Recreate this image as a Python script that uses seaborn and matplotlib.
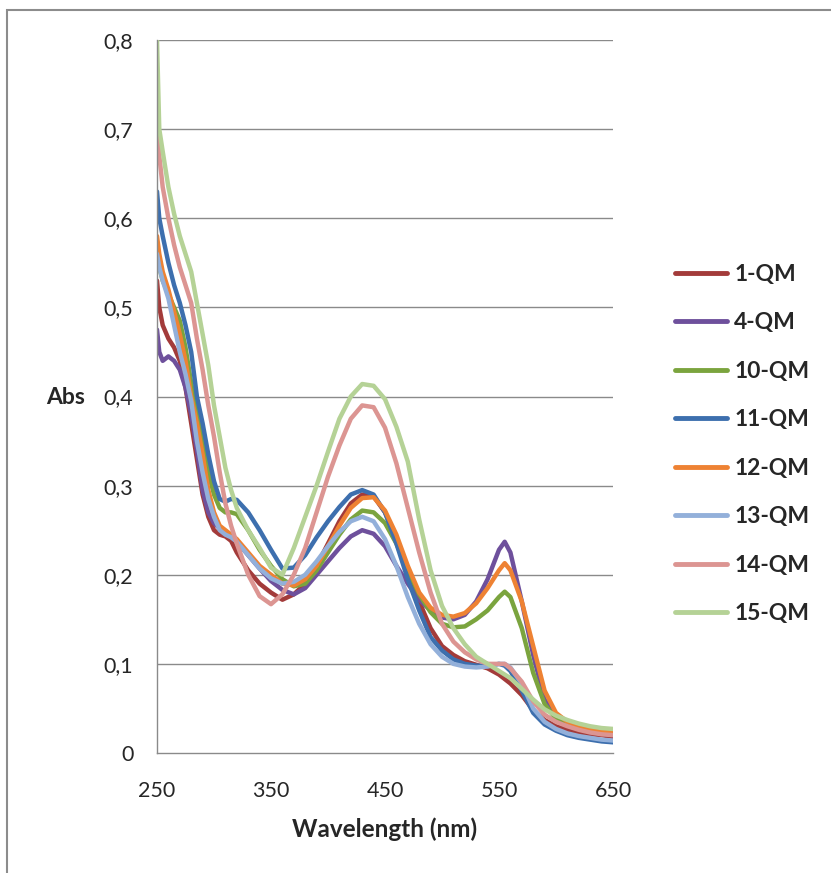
import numpy as np
import pandas as pd
import matplotlib
matplotlib.use("Agg")
import matplotlib.pyplot as plt
import seaborn as sns
from matplotlib.patches import Rectangle
from matplotlib.lines import Line2D
from matplotlib.ticker import FuncFormatter

wavelength = [250, 252, 255, 260, 265, 270, 275, 280, 285, 290, 295, 300, 305, 310, 315, 320,
              330, 340, 350, 360, 370, 380, 390, 400, 410, 420, 430, 440, 450, 460, 470, 480,
              490, 500, 510, 520, 530, 540, 550, 555, 560, 570, 580, 590, 600, 610, 620, 630, 640, 650]

qm1 = [0.53, 0.50, 0.48, 0.465, 0.455, 0.44, 0.41, 0.37, 0.33, 0.29, 0.265, 0.25, 0.245, 0.243, 0.238, 0.225,
       0.205, 0.19, 0.18, 0.172, 0.178, 0.19, 0.21, 0.235, 0.26, 0.28, 0.29, 0.288, 0.27, 0.24, 0.205, 0.17,
       0.14, 0.12, 0.11, 0.103, 0.099, 0.095, 0.088, 0.083, 0.078, 0.065, 0.048, 0.037, 0.03, 0.026, 0.023, 0.021, 0.02, 0.018]
qm4 = [0.475, 0.45, 0.44, 0.445, 0.44, 0.43, 0.41, 0.38, 0.34, 0.295, 0.27, 0.258, 0.252, 0.248, 0.243, 0.237,
       0.222, 0.207, 0.193, 0.183, 0.178, 0.185, 0.20, 0.215, 0.23, 0.243, 0.25, 0.246, 0.232, 0.21, 0.19, 0.172,
       0.16, 0.152, 0.15, 0.155, 0.17, 0.195, 0.228, 0.237, 0.225, 0.17, 0.11, 0.06, 0.04, 0.032, 0.027, 0.024, 0.022, 0.02]
qm10 = [0.56, 0.545, 0.53, 0.515, 0.50, 0.485, 0.455, 0.415, 0.38, 0.35, 0.315, 0.29, 0.275, 0.27, 0.27, 0.268,
        0.25, 0.228, 0.21, 0.195, 0.187, 0.19, 0.205, 0.225, 0.245, 0.262, 0.272, 0.27, 0.258, 0.235, 0.205, 0.178,
        0.158, 0.145, 0.141, 0.142, 0.15, 0.16, 0.175, 0.181, 0.175, 0.14, 0.09, 0.055, 0.038, 0.032, 0.028, 0.025, 0.023, 0.022]
qm11 = [0.63, 0.60, 0.58, 0.55, 0.525, 0.505, 0.48, 0.45, 0.40, 0.37, 0.335, 0.305, 0.285, 0.282, 0.285, 0.284,
        0.27, 0.25, 0.228, 0.207, 0.208, 0.222, 0.242, 0.26, 0.276, 0.29, 0.295, 0.29, 0.27, 0.235, 0.195, 0.16,
        0.13, 0.115, 0.105, 0.10, 0.098, 0.098, 0.10, 0.098, 0.092, 0.07, 0.045, 0.032, 0.025, 0.02, 0.017, 0.015, 0.013, 0.012]
qm12 = [0.58, 0.56, 0.54, 0.52, 0.495, 0.47, 0.44, 0.40, 0.37, 0.335, 0.295, 0.27, 0.255, 0.25, 0.245, 0.24,
        0.225, 0.21, 0.20, 0.19, 0.188, 0.195, 0.21, 0.232, 0.255, 0.275, 0.286, 0.287, 0.272, 0.245, 0.21, 0.18,
        0.163, 0.155, 0.153, 0.157, 0.168, 0.185, 0.205, 0.213, 0.205, 0.17, 0.12, 0.07, 0.045, 0.035, 0.03, 0.027, 0.025, 0.024]
qm13 = [0.56, 0.545, 0.53, 0.51, 0.48, 0.45, 0.425, 0.395, 0.35, 0.315, 0.285, 0.265, 0.25, 0.245, 0.242, 0.237,
        0.222, 0.207, 0.196, 0.19, 0.192, 0.20, 0.215, 0.232, 0.248, 0.26, 0.265, 0.26, 0.24, 0.21, 0.175, 0.145,
        0.122, 0.108, 0.10, 0.097, 0.096, 0.097, 0.10, 0.10, 0.096, 0.078, 0.05, 0.035, 0.027, 0.022, 0.019, 0.017, 0.015, 0.014]
qm14 = [0.71, 0.67, 0.635, 0.60, 0.57, 0.545, 0.525, 0.505, 0.465, 0.43, 0.39, 0.355, 0.315, 0.28, 0.255, 0.235,
        0.20, 0.176, 0.167, 0.178, 0.20, 0.23, 0.27, 0.31, 0.345, 0.375, 0.39, 0.388, 0.365, 0.325, 0.275, 0.225,
        0.18, 0.145, 0.125, 0.113, 0.105, 0.10, 0.10, 0.10, 0.095, 0.08, 0.058, 0.043, 0.035, 0.03, 0.026, 0.023, 0.021, 0.02]
qm15 = [0.80, 0.70, 0.675, 0.635, 0.605, 0.58, 0.56, 0.54, 0.505, 0.47, 0.435, 0.39, 0.355, 0.32, 0.295, 0.275,
        0.25, 0.23, 0.208, 0.20, 0.23, 0.265, 0.30, 0.338, 0.375, 0.40, 0.414, 0.412, 0.397, 0.366, 0.327, 0.262,
        0.205, 0.165, 0.14, 0.122, 0.108, 0.10, 0.092, 0.088, 0.084, 0.072, 0.06, 0.049, 0.042, 0.037, 0.033, 0.03, 0.028, 0.027]

series_names = ["1-QM", "4-QM", "10-QM", "11-QM", "12-QM", "13-QM", "14-QM", "15-QM"]
series_values = [qm1, qm4, qm10, qm11, qm12, qm13, qm14, qm15]
colors = ["#A33B3A", "#6E509C", "#7BA43E", "#3D6FAE", "#EE8233", "#93B0DA", "#DC9592", "#B5D296"]

x_ticks = [250, 350, 450, 550, 650]
y_ticks = [0, 0.1, 0.2, 0.3, 0.4, 0.5, 0.6, 0.7, 0.8]

rows = []
for name, vals in zip(series_names, series_values):
    for w, v in zip(wavelength, vals):
        rows.append({"Wavelength": w, "Abs": v, "Sample": name})
df = pd.DataFrame(rows)

sns.set_style("white")
plt.rcParams["font.family"] = ["Lato", "DejaVu Sans"]

W, H = 831, 873
fig = plt.figure(figsize=(W / 100, H / 100), dpi=100)
ax = fig.add_axes([157 / W, 1 - 753 / H, (613 - 157) / W, (753 - 40) / H])

# outer chart-area border
fig.patches.append(Rectangle((7 / W, -0.05), 1.2, 1 - 10 / H + 0.05, transform=fig.transFigure,
                             fill=False, edgecolor="#8c8c8c", linewidth=1.5))

sns.lineplot(data=df, x="Wavelength", y="Abs", hue="Sample", hue_order=series_names,
             palette=dict(zip(series_names, colors)), linewidth=3.2, ax=ax, legend=False,
             sort=False, estimator=None)

ax.set_xlim(250, 650)
ax.set_ylim(0, 0.8)
ax.set_xticks(x_ticks)
ax.set_yticks(y_ticks)
ax.yaxis.set_major_formatter(FuncFormatter(lambda v, p: "0" if v == 0 else f"{v:.1f}".replace(".", ",")))
ax.xaxis.set_major_formatter(FuncFormatter(lambda v, p: f"{int(v)}"))
for y in y_ticks[1:]:
    ax.axhline(y, color="#8a8a8a", linewidth=1.0, zorder=0)
for s in ["top", "right"]:
    ax.spines[s].set_visible(False)
for s in ["left", "bottom"]:
    ax.spines[s].set_color("#8a8a8a")
    ax.spines[s].set_linewidth(1.0)
ax.tick_params(axis="x", direction="out", length=7, width=1, color="#8a8a8a", labelsize=15.5, pad=13)
ax.tick_params(axis="y", direction="out", length=7, width=1, color="#8a8a8a", labelsize=15.5, pad=10)
ax.set_xlabel("Wavelength (nm)", fontsize=17.5, fontweight="bold", labelpad=12)
ax.set_ylabel("")
fig.text(66 / W, 1 - 398 / H, "Abs", fontsize=16.5, fontweight="bold", ha="center", va="center")

handles = [Line2D([0], [0], color=c, linewidth=3.5) for c in colors]
leg = fig.legend(handles, series_names, loc="upper left", bbox_to_anchor=(654 / W, 1 - 243 / H),
                 frameon=False, handlelength=2.3, handletextpad=0.3, labelspacing=1.2,
                 prop={"weight": "bold", "size": 16.5})

fig.savefig("out.png", dpi=100)
